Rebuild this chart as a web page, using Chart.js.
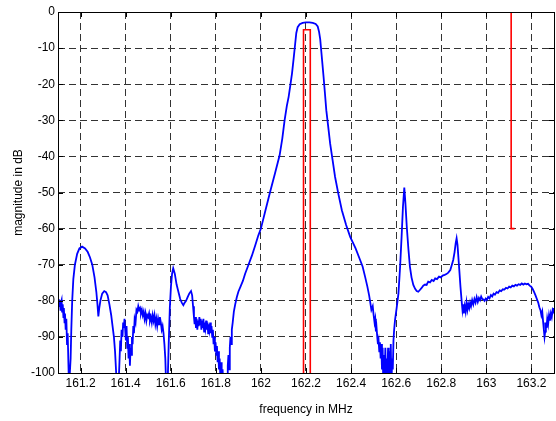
<!DOCTYPE html>
<html>
<head>
<meta charset="utf-8">
<script src="https://cdn.jsdelivr.net/npm/chart.js@4.4.1/dist/chart.umd.min.js"></script>
<style>
  html, body { margin: 0; padding: 0; background: #fff; }
</style>
</head>
<body>
<canvas id="chart" width="556" height="421"></canvas>
<script>
// measured filter response (blue), frequency in MHz
const freqMHz = [
  161.100, 161.103, 161.106, 161.108, 161.111, 161.113, 161.116, 161.118,
  161.121, 161.124, 161.126, 161.129, 161.131, 161.134, 161.137, 161.140,
  161.143, 161.146, 161.149, 161.153, 161.156, 161.159, 161.163, 161.168,
  161.175, 161.185, 161.195, 161.207, 161.220, 161.232, 161.242, 161.252,
  161.262, 161.270, 161.275, 161.279, 161.283, 161.288, 161.296, 161.305,
  161.313, 161.320, 161.328, 161.336, 161.342, 161.348, 161.353, 161.358,
  161.362, 161.368, 161.372, 161.376, 161.379, 161.382, 161.386, 161.389,
  161.392, 161.395, 161.398, 161.401, 161.404, 161.407, 161.410, 161.413,
  161.416, 161.419, 161.422, 161.425, 161.428, 161.431, 161.434, 161.437,
  161.440, 161.444, 161.448, 161.452, 161.456, 161.460, 161.464, 161.468,
  161.472, 161.476, 161.480, 161.484, 161.488, 161.492, 161.496, 161.500,
  161.504, 161.508, 161.512, 161.516, 161.520, 161.524, 161.528, 161.532,
  161.536, 161.540, 161.544, 161.548, 161.552, 161.556, 161.560, 161.564,
  161.568, 161.572, 161.576, 161.580, 161.586, 161.591, 161.596, 161.601,
  161.606, 161.611, 161.618, 161.626, 161.634, 161.642, 161.649, 161.656,
  161.662, 161.668, 161.675, 161.682, 161.690, 161.695, 161.699, 161.703,
  161.706, 161.709, 161.712, 161.715, 161.718, 161.721, 161.724, 161.727,
  161.730, 161.733, 161.736, 161.739, 161.742, 161.745, 161.748, 161.751,
  161.754, 161.757, 161.760, 161.763, 161.766, 161.769, 161.772, 161.775,
  161.778, 161.781, 161.784, 161.787, 161.790, 161.793, 161.796, 161.799,
  161.802, 161.805, 161.808, 161.811, 161.814, 161.817, 161.820, 161.823,
  161.826, 161.830, 161.834, 161.838, 161.842, 161.846, 161.850, 161.853,
  161.856, 161.859, 161.862, 161.865, 161.868, 161.871, 161.875, 161.880,
  161.886, 161.893, 161.900, 161.910, 161.920, 161.930, 161.945, 161.960,
  161.975, 161.988, 162.000, 162.020, 162.041, 162.062, 162.083, 162.095,
  162.105, 162.115, 162.123, 162.130, 162.138, 162.145, 162.152, 162.157,
  162.163, 162.172, 162.185, 162.200, 162.215, 162.230, 162.243, 162.252,
  162.258, 162.263, 162.268, 162.273, 162.278, 162.284, 162.290, 162.298,
  162.307, 162.318, 162.329, 162.344, 162.359, 162.378, 162.396, 162.420,
  162.440, 162.451, 162.462, 162.472, 162.480, 162.484, 162.490, 162.496,
  162.500, 162.504, 162.507, 162.510, 162.513, 162.516, 162.519, 162.522,
  162.525, 162.528, 162.531, 162.534, 162.537, 162.540, 162.543, 162.546,
  162.549, 162.552, 162.555, 162.558, 162.561, 162.564, 162.567, 162.570,
  162.573, 162.576, 162.579, 162.582, 162.585, 162.588, 162.591, 162.595,
  162.602, 162.610, 162.617, 162.624, 162.630, 162.636, 162.641, 162.647,
  162.654, 162.661, 162.668, 162.676, 162.684, 162.691, 162.698, 162.705,
  162.712, 162.720, 162.728, 162.735, 162.742, 162.750, 162.758, 162.766,
  162.773, 162.781, 162.790, 162.798, 162.806, 162.815, 162.823, 162.831,
  162.840, 162.847, 162.853, 162.859, 162.864, 162.868, 162.872, 162.876,
  162.880, 162.885, 162.890, 162.894, 162.897, 162.900, 162.904, 162.908,
  162.912, 162.916, 162.920, 162.924, 162.928, 162.932, 162.937, 162.942,
  162.947, 162.952, 162.957, 162.962, 162.967, 162.972, 162.977, 162.982,
  162.987, 162.992, 162.997, 163.002, 163.008, 163.014, 163.020, 163.026,
  163.032, 163.038, 163.045, 163.052, 163.059, 163.066, 163.073, 163.080,
  163.087, 163.094, 163.101, 163.108, 163.115, 163.122, 163.129, 163.136,
  163.143, 163.150, 163.157, 163.164, 163.171, 163.178, 163.185, 163.192,
  163.199, 163.206, 163.212, 163.218, 163.224, 163.230, 163.235, 163.240,
  163.244, 163.248, 163.252, 163.255, 163.258, 163.261, 163.264, 163.267,
  163.270, 163.274, 163.278, 163.282, 163.286, 163.290, 163.294, 163.298,
  163.300
];
const magDb = [
  -80.5, -79.5, -81.5, -80.0, -82.5, -80.5, -79.8, -83.0,
  -81.0, -84.5, -82.0, -86.0, -83.5, -88.0, -85.0, -92.0,
  -89.0, -97.0, -104, -104, -96, -88, -80, -74,
  -70, -67, -65.5, -65.0, -65.5, -66.5, -68.0, -70.0,
  -73.5, -77.5, -81, -84.3, -82, -80, -78, -77.3,
  -77.6, -78.5, -81, -84, -87, -90, -94, -100,
  -104, -104, -98, -91, -94, -88, -90, -86,
  -87.5, -85, -88, -91, -87, -93, -90, -96,
  -92, -98, -93, -95, -90, -92, -87, -89,
  -85, -86, -82.5, -83, -81.5, -82.5, -82, -83.5,
  -82.5, -84, -83, -85, -83.5, -85.5, -84, -84.5,
  -83.5, -85.5, -84.5, -86, -84, -85.5, -84, -86.5,
  -85, -87, -85, -86.5, -84.5, -86, -88, -87,
  -89, -92, -96, -104, -104, -92, -82, -76,
  -72.5, -71.0, -72.5, -75.5, -77.5, -79.5, -80.5, -81.2,
  -80.5, -80, -79, -78, -77.3, -78.5, -81.5, -84.5,
  -86.5, -84.5, -87.5, -85, -88, -85.5, -87, -84.5,
  -86.5, -85, -88, -85.5, -87.5, -85, -88.5, -86,
  -87.5, -85.5, -88, -86, -89, -86.5, -88, -86,
  -89, -87, -90, -88, -92, -90, -94, -91.5,
  -95, -92.5, -97, -94, -99, -96, -101, -97,
  -104, -99, -104, -104, -100, -104, -104, -98,
  -95, -99, -93, -90, -92, -88, -86, -83,
  -81, -79, -77.5, -76, -74.5, -72.5, -70, -67.5,
  -64.6, -62, -60, -55, -49.8, -44.8, -39.7, -35,
  -30, -26, -23.5, -20.5, -17, -13, -8.8, -5.8,
  -4.2, -3.4, -3.0, -2.9, -2.9, -3.0, -3.3, -4.0,
  -5.5, -7.5, -11, -14.5, -18, -22.5, -27.2, -31.5,
  -36.4, -41, -45.7, -50.5, -54.9, -59, -62.3, -65.5,
  -68.7, -70.5, -73.3, -76, -78.5, -80, -82.5, -81.5,
  -84, -86, -85, -88.5, -87.5, -90, -92, -91,
  -94, -91.5, -96, -92, -99, -93, -104, -95,
  -101, -93, -104, -96, -100, -93, -104, -94,
  -101, -92, -104, -96, -99, -91, -88, -85.3,
  -82, -78, -71, -62.3, -54, -48.6, -53, -59.5,
  -65.5, -70.6, -73.5, -75.6, -76.7, -77.3, -77.5, -77.0,
  -76.5, -75.8, -75.5, -75.6, -74.7, -74.9, -74.2, -74.5,
  -73.8, -74, -73.3, -73.5, -73, -72.8, -72.6, -72.2,
  -71.5, -70, -68.7, -66.5, -64, -62.7, -64.5, -68,
  -71.5, -76, -79.8, -82.5, -81, -83.5, -81.5, -83,
  -80.5, -82.5, -81, -82, -80.5, -81.5, -79.8, -81,
  -79.5, -80.5, -79, -80.3, -79.2, -79.8, -78.8, -79.5,
  -79.6, -80, -79.4, -79.8, -78.9, -79.3, -78.4, -78.8,
  -78, -78.3, -77.6, -77.8, -77.1, -77.3, -76.8, -76.9,
  -76.4, -76.6, -76.1, -76.3, -75.8, -76, -75.6, -75.8,
  -75.4, -75.6, -75.2, -75.5, -75.2, -75.4, -75.3, -75.8,
  -76.1, -76.8, -77.6, -78.5, -79.5, -80.5, -81.8, -82.6,
  -84, -83, -86, -88, -90, -88.5, -86, -87.5,
  -85, -86.5, -84, -85.5, -83.5, -84.5, -82.5, -83,
  -82
];

// red markers: channel box and the -60 dB line (null breaks the path)
const markerFreq = [162.189, 162.189, 162.219, 162.219, 163.11, 163.11, 163.11, 163.125];
const markerDb   = [-104, -4.9, -4.9, -104, null, 0, -60, -60];

const xTickValues = [161.2, 161.4, 161.6, 161.8, 162, 162.2, 162.4, 162.6, 162.8, 163, 163.2];
const yTickValues = [-100, -90, -80, -70, -60, -50, -40, -30, -20, -10, 0];

const FONT = { family: '"Liberation Sans", Arial, sans-serif', size: 12 };

const toPoints = (xs, ys) => xs.map((x, i) => ({ x: x, y: ys[i] }));

// matlab style box with inward tick marks
const boxPlugin = {
  id: 'box',
  afterDatasetsDraw(chart) {
    const { ctx, chartArea: a, scales } = chart;
    const len = 5;
    ctx.save();
    ctx.strokeStyle = '#000';
    ctx.lineWidth = 1;
    ctx.setLineDash([]);
    ctx.beginPath();
    xTickValues.forEach(v => {
      const px = Math.round(scales.x.getPixelForValue(v)) + 0.5;
      ctx.moveTo(px, a.bottom); ctx.lineTo(px, a.bottom - len);
      ctx.moveTo(px, a.top); ctx.lineTo(px, a.top + len);
    });
    yTickValues.forEach(v => {
      const py = Math.round(scales.y.getPixelForValue(v)) + 0.5;
      ctx.moveTo(a.left, py); ctx.lineTo(a.left + len, py);
      ctx.moveTo(a.right, py); ctx.lineTo(a.right - len, py);
    });
    ctx.stroke();
    ctx.strokeRect(Math.round(a.left) + 0.5, Math.round(a.top) + 0.5,
      Math.round(a.right - a.left), Math.round(a.bottom - a.top));
    ctx.restore();
  }
};

new Chart(document.getElementById('chart').getContext('2d'), {
  type: 'line',
  data: {
    datasets: [
      {
        label: 'marker',
        data: toPoints(markerFreq, markerDb),
        borderColor: '#ff0000',
        borderWidth: 1.6,
        pointRadius: 0,
        tension: 0,
        spanGaps: false
      },
      {
        label: 'response',
        data: toPoints(freqMHz, magDb),
        borderColor: '#0000ff',
        borderWidth: 1.8,
        pointRadius: 0,
        tension: 0
      }
    ]
  },
  options: {
    responsive: false,
    animation: false,
    events: [],
    layout: { padding: { left: 0, right: 2, top: 12, bottom: 0 } },
    plugins: { legend: { display: false }, tooltip: { enabled: false } },
    scales: {
      x: {
        type: 'linear',
        min: 161.1,
        max: 163.3,
        afterBuildTicks: s => { s.ticks = xTickValues.map(v => ({ value: v })); },
        afterFit: s => { s.height = 48; },
        ticks: {
          autoSkip: false,
          maxRotation: 0,
          padding: 3,
          color: '#000',
          font: FONT,
          callback: v => String(+v.toFixed(1))
        },
        grid: { color: '#333', lineWidth: 1, drawTicks: false },
        border: { display: false, dash: [7, 4] },
        title: { display: true, text: 'frequency in MHz', color: '#000', font: FONT, padding: { top: 0, bottom: 4 } }
      },
      y: {
        type: 'linear',
        min: -100,
        max: 0,
        afterBuildTicks: s => { s.ticks = yTickValues.map(v => ({ value: v })); },
        afterFit: s => { s.width = 58; },
        ticks: {
          autoSkip: false,
          padding: 3,
          color: '#000',
          font: FONT,
          callback: v => String(v)
        },
        grid: { color: '#333', lineWidth: 1, drawTicks: false },
        border: { display: false, dash: [7, 4] },
        title: { display: true, text: 'magnitude in dB', color: '#000', font: FONT, padding: { top: 11, bottom: 0 } }
      }
    }
  },
  plugins: [boxPlugin]
});
</script>
</body>
</html>
